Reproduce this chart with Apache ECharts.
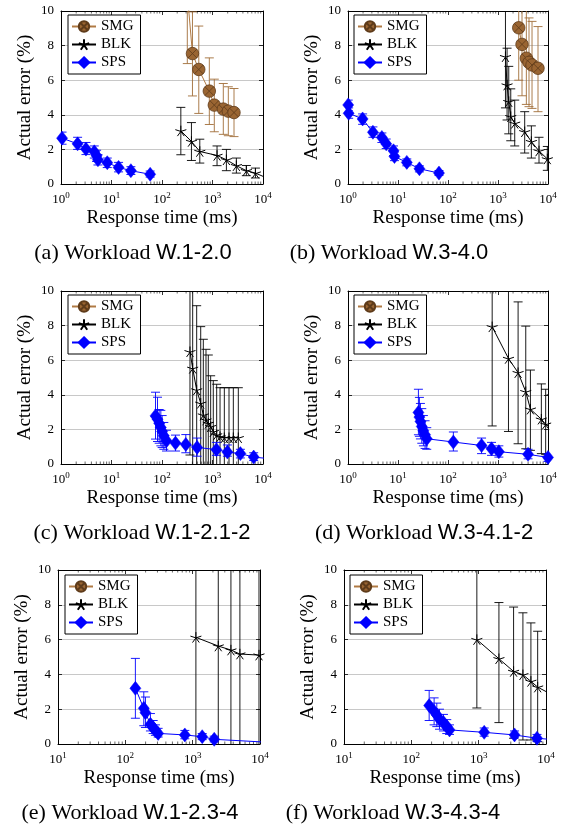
<!DOCTYPE html>
<html><head><meta charset="utf-8">
<script src="https://cdn.jsdelivr.net/npm/echarts@6/dist/echarts.min.js"></script>
<style>html,body{margin:0;padding:0;background:#fff}#c{width:565px;height:830px}</style>
</head><body><div id="c"></div>
<script>
// ---- data: [responseTimeMs, actualErrorPct, errLow, errHigh] ----
const aSMG = [[317,11.0,6.96,15.0],[401,7.54,5.09,9.95],[535,6.62,4.08,9.13],[865,5.37,3.44,7.29],[1086,4.56,3.02,6.06],[1637,4.33,2.87,5.81],[2057,4.21,2.79,5.62],[2667,4.13,2.74,5.52]];
const aBLK = [[236,3.07,1.69,4.43],[383,2.46,1.36,3.55],[560,1.88,1.21,2.59],[1230,1.65,1.06,2.2],[1884,1.40,0.77,2.0],[2970,1.06,0.63,1.5],[4680,0.77,0.48,1.07],[7080,0.63,0.35,0.92],[13000,0.30,0.15,0.45]];
const aSPS = [[1.05,2.65,2.3,3.0],[2.13,2.32,2.0,2.7],[3.12,2.02,1.7,2.4],[4.56,1.86,1.5,2.2],[5.07,1.63,1.3,1.95],[5.39,1.40,1.1,1.7],[8.24,1.23,0.95,1.5],[13.8,0.96,0.7,1.25],[24.2,0.77,0.55,1.0],[58.3,0.56,0.4,0.75]];

const bSMG = [[2596,9.03,6.0,12.0],[3020,8.07,5.1,11.0],[3690,7.27,4.6,10.2],[4170,7.03,4.47,9.6],[4790,6.88,4.37,9.4],[6310,6.69,4.18,9.1]];
const bBLK = [[1410,7.36,4.4,10.5],[1518,5.72,3.7,7.85],[1641,4.76,2.9,6.8],[1800,3.89,2.5,5.5],[2160,3.51,2.2,4.85],[3420,3.02,1.79,4.18],[4650,2.45,1.5,3.36],[6610,1.91,1.21,2.7],[9700,1.45,0.79,2.17]];
const bSPS = [[1.01,4.57,4.25,4.85],[1.03,4.09,3.8,4.4],[1.96,3.76,3.45,4.05],[3.15,2.99,2.7,3.3],[4.76,2.69,2.4,2.95],[5.81,2.32,2.05,2.6],[8.13,1.92,1.65,2.2],[8.5,1.59,1.35,1.85],[15,1.25,1.05,1.45],[26.8,0.88,0.7,1.05],[66,0.63,0.5,0.78]];

const cSMG = [];
const cBLK = [[358,6.49,0.52,12.5],[405,5.53,-1.5,12.5],[486,4.28,-0.6,9.15],[584,3.51,-0.9,7.94],[658,2.83,-1.5,7.21],[743,2.54,-1.5,6.63],[826,2.35,-1.6,6.3],[920,2.16,-0.8,5.1],[1037,1.87,-1.1,4.82],[1210,1.68,-1.2,4.61],[1410,1.58,-1.3,4.41],[1715,1.52,-1.4,4.41],[2123,1.52,-1.4,4.41],[2585,1.52,-1.4,4.41],[3245,1.52,-1.4,4.41]];
const cSPS = [[74.4,2.78,1.44,4.15],[81.5,2.59,1.3,3.86],[87.9,2.36,1.2,3.15],[94.8,2.11,1.05,3.1],[100.7,1.88,0.95,2.8],[108.7,1.63,0.85,2.4],[122.7,1.34,0.75,1.95],[185,1.21,0.75,1.67],[296,1.13,0.65,1.7],[496,0.96,0.45,1.5],[1195,0.83,0.5,1.25],[1973,0.69,0.45,1.1],[3565,0.60,0.35,0.85],[6540,0.40,0.2,0.65],[13000,0.31,0.15,0.45]];

const dSMG = [];
const dBLK = [[765,7.93,2.2,12.0],[1620,6.10,1.88,12.0],[2523,5.28,1.17,9.37],[3590,4.18,0.88,7.97],[4450,3.17,0.79,5.43],[7360,2.59,0.6,4.63],[8980,2.30,0.54,4.32],[11500,2.1,0.5,4.0]];
const dSPS = [[25.6,2.98,1.69,4.32],[26.8,2.71,1.6,3.85],[28.1,2.46,1.45,3.5],[29.9,2.17,1.2,3.2],[32.2,1.92,1.05,2.8],[34.8,1.69,0.9,2.5],[37.6,1.46,0.85,2.1],[128,1.27,0.75,1.85],[469,1.07,0.6,1.5],[742,0.88,0.5,1.25],[1040,0.71,0.4,1.05],[3990,0.56,0.3,0.85],[10000,0.38,0.15,0.6]];

const eSMG = [];
const eBLK = [[1117,6.13,-5,16],[2400,5.63,-5,16],[3700,5.40,-5,16],[5030,5.17,-5,16],[9660,5.11,-5,16]];
const eSPS = [[141,3.2,1.48,4.92],[188,2.05,1.05,3.0],[199,1.8,0.95,2.7],[236,1.13,0.75,1.75],[259,0.94,0.6,1.35],[280,0.77,0.5,1.1],[307,0.61,0.4,0.9],[765,0.52,0.3,0.78],[1387,0.42,0.25,0.6],[2090,0.27,0.12,0.45],[13000,0.10,0.0,0.2]];

const fSMG = [];
const fBLK = [[940,6.0,2.07,10.5],[2000,4.9,1.23,8.13],[3300,4.17,0.33,7.87],[4540,3.98,0.23,7.54],[5970,3.6,0.23,6.96],[7520,3.27,0.13,6.48],[12000,2.85,0.1,6.0]];
const fSPS = [[184,2.21,1.35,3.08],[218,1.87,1.1,2.65],[239,1.67,1.0,2.35],[262,1.42,0.85,2.0],[300,1.23,0.75,1.7],[336,1.0,0.6,1.4],[369,0.81,0.55,1.1],[1208,0.67,0.45,0.92],[3410,0.52,0.35,0.75],[7350,0.33,0.15,0.55],[13000,0.25,0.1,0.4]];

const seriesNames = ['SMG','BLK','SPS'];
const captionPrefix = ['(a) Workload ','(b) Workload ','(c) Workload ','(d) Workload ','(e) Workload ','(f) Workload '];
const workloads = ['W.1-2.0','W.3-4.0','W.1-2.1-2','W.3-4.1-2','W.1-2.3-4','W.3-4.3-4'];
const xMins = [1,1,1,1,10,10];
const xMax = 10000;
const yMin = 0, yMax = 10, yStep = 2;
const minorTicks = [2,3,4,5,6,7,8,9,20,30,40,50,60,70,80,90,200,300,400,500,600,700,800,900,2000,3000,4000,5000,6000,7000,8000,9000];
const xName = 'Response time (ms)';
const yName = 'Actual error (%)';

// ---- layout ----
const SERIF = 'Liberation Serif', SANS = 'Liberation Sans';
const panelData = [[aSMG,aBLK,aSPS],[bSMG,bBLK,bSPS],[cSMG,cBLK,cSPS],[dSMG,dBLK,dSPS],[eSMG,eBLK,eSPS],[fSMG,fBLK,fSPS]];
const grids = [
  {left:61,top:11,width:202,height:173},{left:348,top:11,width:200,height:173},
  {left:61,top:291,width:202,height:173},{left:348,top:291,width:200,height:173},
  {left:58,top:570,width:202,height:174},{left:344,top:570,width:202,height:174}
];
const legendPos = [[68,15],[354,15],[68,295],[354,295],[65,575],[350,575]];
const capPos = [[133,253],[389,253],[142,533],[424,533],[130,813],[393,813]];

const SMG_SYMBOL = 'path://M0,10A10,10,0,1,1,20,10A10,10,0,1,1,0,10ZM2.93,2.93L17.07,17.07M17.07,2.93L2.93,17.07';
const STAR_SYMBOL = 'path://M10,10L10,0M10,10L19.51,6.91M10,10L15.88,18.09M10,10L4.12,18.09M10,10L0.49,6.91';

const styles = {
  SMG: {symbol: SMG_SYMBOL, size: 12.5, fill: '#9a6532', border: '#5e3b1a', bw: 0.8, line: '#b07a44', err: '#a06d38'},
  BLK: {symbol: STAR_SYMBOL, size: 11, fill: '#000', border: '#000', bw: 1, line: '#000', err: '#000'},
  SPS: {symbol: 'diamond', size: [11, 14], fill: '#0000ff', border: '#0000ff', bw: 0.5, line: '#0000ff', err: '#0000ff'}
};

function errSeries(name, data, color, xi, yi) {
  return {
    type: 'custom', name: name + ' err', xAxisIndex: xi, yAxisIndex: yi, clip: true, silent: true, animation: false,
    data: data.map(d => [d[0], d[2], d[3]]),
    encode: {x: 0, y: [1, 2]},
    renderItem: function (params, api) {
      const x = api.value(0), lo = api.value(1), hi = api.value(2);
      const a = api.coord([x, lo]), b = api.coord([x, hi]);
      const w = 4.5, st = {stroke: color, lineWidth: 0.9};
      return {type: 'group', children: [
        {type: 'line', shape: {x1: a[0], y1: a[1], x2: b[0], y2: b[1]}, style: st},
        {type: 'line', shape: {x1: a[0] - w, y1: a[1], x2: a[0] + w, y2: a[1]}, style: st},
        {type: 'line', shape: {x1: b[0] - w, y1: b[1], x2: b[0] + w, y2: b[1]}, style: st}
      ]};
    }
  };
}
function minorSeries(xi, yi, xmin) {
  return {
    type: 'custom', xAxisIndex: xi, yAxisIndex: yi, clip: true, silent: true, animation: false,
    data: minorTicks.filter(v => v > xmin).map(v => [v, yMin]),
    encode: {x: 0, y: 1},
    renderItem: function (params, api) {
      const v = api.value(0);
      const b = api.coord([v, yMin]), t = api.coord([v, yMax]);
      const st = {stroke: '#000', lineWidth: 0.6};
      return {type: 'group', children: [
        {type: 'line', shape: {x1: b[0], y1: b[1], x2: b[0], y2: b[1] - 2.5}, style: st},
        {type: 'line', shape: {x1: t[0], y1: t[1], x2: t[0], y2: t[1] + 2.5}, style: st}
      ]};
    }
  };
}

const xAxes = [], yAxes = [], series = [], legends = [];
const tickLine = {inside: true, length: 4, lineStyle: {color: '#000', width: 0.8}};
const axLine = {show: true, onZero: false, lineStyle: {color: '#000', width: 1}};
for (let i = 0; i < 6; i++) {
  xAxes.push({
    type: 'log', logBase: 10, gridIndex: i, min: xMins[i], max: xMax, position: 'bottom',
    axisLine: axLine, axisTick: tickLine, splitLine: {show: false},
    axisLabel: {
      margin: 7, color: '#000',
      formatter: v => '{b|10}{s|' + Math.round(Math.log10(v)) + '}',
      rich: {
        b: {fontFamily: SERIF, fontSize: 13, color: '#000', verticalAlign: 'bottom'},
        s: {fontFamily: SERIF, fontSize: 9, color: '#000', verticalAlign: 'bottom', padding: [0, 0, 6, 0]}
      }
    },
    name: xName, nameLocation: 'middle', nameGap: 25,
    nameTextStyle: {fontFamily: SERIF, fontSize: 19, color: '#000'}
  });
  xAxes.push({
    type: 'log', logBase: 10, gridIndex: i, min: xMins[i], max: xMax, position: 'top',
    axisLine: axLine, axisTick: tickLine, axisLabel: {show: false}, splitLine: {show: false}
  });
  yAxes.push({
    type: 'value', gridIndex: i, min: yMin, max: yMax, interval: yStep, position: 'left',
    axisLine: axLine, axisTick: tickLine,
    axisLabel: {fontFamily: SERIF, fontSize: 13, color: '#000', margin: 7},
    splitLine: {show: true, lineStyle: {color: '#c8c8c8', width: 1}},
    name: yName, nameLocation: 'middle', nameGap: 26,
    nameTextStyle: {fontFamily: SERIF, fontSize: 19, color: '#000'}
  });
  yAxes.push({
    type: 'value', gridIndex: i, min: yMin, max: yMax, interval: yStep, position: 'right',
    axisLine: axLine, axisTick: tickLine, axisLabel: {show: false}, splitLine: {show: false}
  });
  const xi = 2 * i, yi = 2 * i;
  series.push(minorSeries(xi, yi, xMins[i]));
  seriesNames.forEach((nm, k) => {
    const d = panelData[i][k], s = styles[nm];
    series.push(errSeries(nm, d, s.err, xi, yi));
    series.push({
      type: 'line', name: nm, xAxisIndex: xi, yAxisIndex: yi, clip: true, animation: false,
      data: d.map(p => [p[0], p[1]]),
      symbol: s.symbol, symbolSize: s.size, symbolKeepAspect: true, showSymbol: true,
      itemStyle: {color: s.fill, borderColor: s.border, borderWidth: s.bw},
      lineStyle: {color: s.line, width: 1}
    });
  });
  legends.push({
    left: legendPos[i][0], top: legendPos[i][1], orient: 'vertical', data: seriesNames,
    itemWidth: 24, itemHeight: 13, itemGap: 3, padding: [4, 7, 4, 3],
    borderColor: '#000', borderWidth: 1, backgroundColor: '#fff', selectedMode: false,
    textStyle: {fontFamily: SERIF, fontSize: 15, color: '#000'}
  });
}

const graphics = captionPrefix.map((c, i) => ({
  type: 'text', x: capPos[i][0], y: capPos[i][1],
  style: {
    text: '{s|' + c + '}{h|' + workloads[i] + '}',
    rich: {
      s: {fontFamily: SERIF, fontSize: 22, fill: '#000', color: '#000'},
      h: {fontFamily: SANS, fontSize: 22, fill: '#000', color: '#000'}
    },
    align: 'center', verticalAlign: 'middle', textAlign: 'center', textVerticalAlign: 'middle'
  }
}));

const chart = echarts.init(document.getElementById('c'), null, {renderer: 'canvas'});
chart.setOption({
  animation: false,
  backgroundColor: '#fff',
  grid: grids,
  xAxis: xAxes,
  yAxis: yAxes,
  legend: legends,
  series: series,
  graphic: graphics
});
</script></body></html>
